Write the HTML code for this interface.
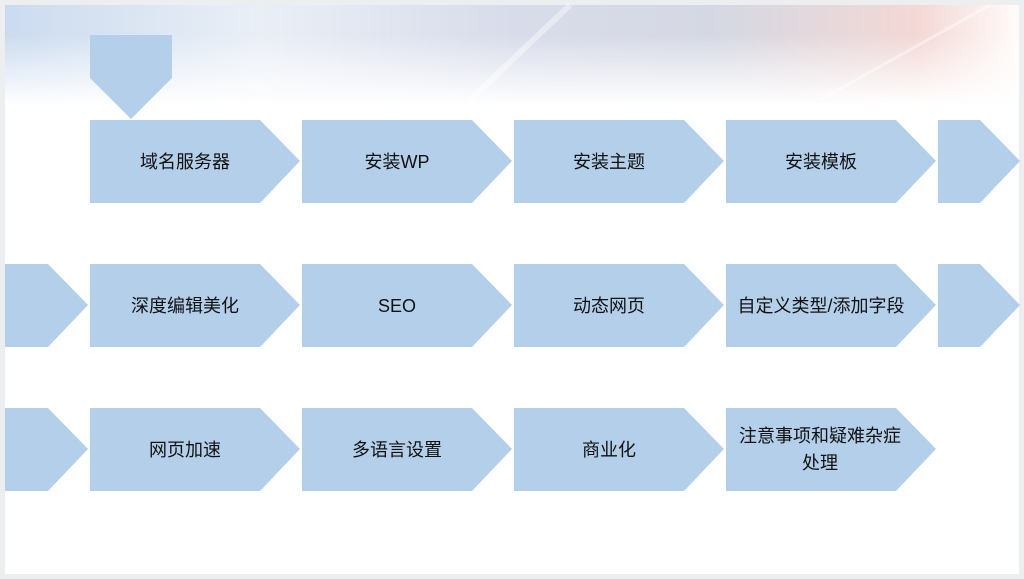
<!DOCTYPE html>
<html><head><meta charset="utf-8"><style>
html,body{margin:0;padding:0;width:1024px;height:579px;overflow:hidden;background:#eceef0;}
.slide{position:absolute;left:5px;top:5px;width:1014px;height:569px;background:#fff;overflow:hidden;}
.hdr{position:absolute;left:0;top:0;width:1014px;height:100px;
background:linear-gradient(90deg,rgba(190,210,235,.8) 0%,rgba(220,228,240,.6) 25%,rgba(200,205,225,.7) 50%,rgba(195,200,215,.7) 70%,rgba(235,190,185,.6) 90%,rgba(255,245,240,.4) 100%);
-webkit-mask-image:linear-gradient(180deg,#000 0%,#000 30%,transparent 100%);mask-image:linear-gradient(180deg,#000 0%,#000 30%,transparent 100%);}
svg{position:absolute;left:0;top:0;}
</style></head><body>
<div class="slide"><div class="hdr"></div></div>
<svg width="1024" height="579" font-family="Liberation Sans, Noto Sans CJK SC, sans-serif" font-size="18" fill="#b3cfea">
<g stroke="rgba(255,255,255,.5)" stroke-width="6" opacity=".8"><line x1="570" y1="5" x2="470" y2="100"/><line x1="990" y1="5" x2="820" y2="100" stroke-width="3"/></g>
<polygon points="90,35 172,35 172,78 131,119 90,78"/>
<g>
<polygon points="90,120 260,120 300,161 260,203 90,203"/>
<polygon points="302,120 472,120 512,161 472,203 302,203"/>
<polygon points="514,120 684,120 724,161 684,203 514,203"/>
<polygon points="726,120 896,120 936,161 896,203 726,203"/>
<polygon points="938,120 980,120 1020,161 980,203 938,203"/>
</g>
<g transform="translate(0,144)">
<polygon points="5,120 48,120 88,161 48,203 5,203"/>
<polygon points="90,120 260,120 300,161 260,203 90,203"/>
<polygon points="302,120 472,120 512,161 472,203 302,203"/>
<polygon points="514,120 684,120 724,161 684,203 514,203"/>
<polygon points="726,120 896,120 936,161 896,203 726,203"/>
<polygon points="938,120 980,120 1020,161 980,203 938,203"/>
</g>
<g transform="translate(0,288)">
<polygon points="5,120 48,120 88,161 48,203 5,203"/>
<polygon points="90,120 260,120 300,161 260,203 90,203"/>
<polygon points="302,120 472,120 512,161 472,203 302,203"/>
<polygon points="514,120 684,120 724,161 684,203 514,203"/>
<polygon points="726,120 896,120 936,161 896,203 726,203"/>
</g>
<g fill="#111" text-anchor="middle">
<text x="185" y="168">域名服务器</text>
<text x="397" y="168">安装WP</text>
<text x="609" y="168">安装主题</text>
<text x="821" y="168">安装模板</text>
<text x="185" y="312">深度编辑美化</text>
<text x="397" y="312">SEO</text>
<text x="609" y="312">动态网页</text>
<text x="821" y="312">自定义类型/添加字段</text>
<text x="185" y="456">网页加速</text>
<text x="397" y="456">多语言设置</text>
<text x="609" y="456">商业化</text>
<text x="820" y="442">注意事项和疑难杂症</text>
<text x="820" y="469">处理</text>
</g>
</svg>
</body></html>
